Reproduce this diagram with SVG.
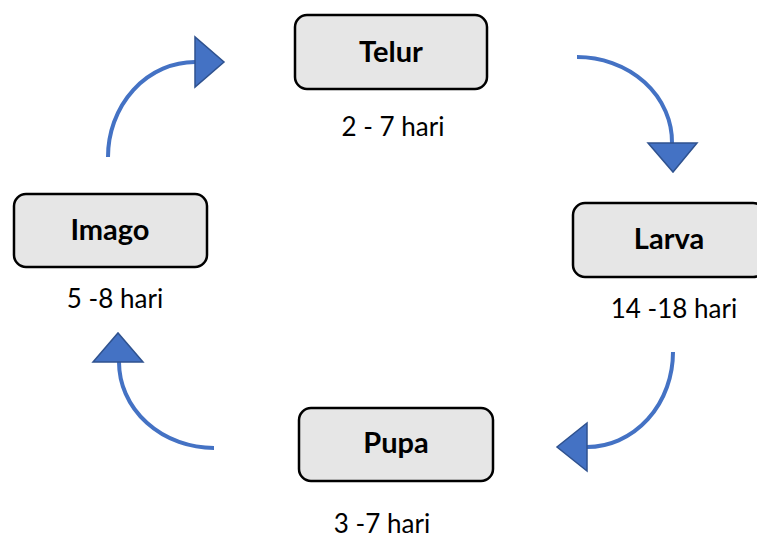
<svg xmlns="http://www.w3.org/2000/svg" width="757" height="538" viewBox="0 0 757 538">
<style>
.box{fill:#e6e6e6;stroke:#000;stroke-width:2.5}
.lbl{font-family:Lato,"Open Sans","Liberation Sans",sans-serif;font-weight:bold;font-size:29px;fill:#000;text-anchor:middle}
.dur{font-family:Lato,"Open Sans","Liberation Sans",sans-serif;font-size:26px;fill:#000;text-anchor:middle}
.arc{fill:none;stroke:#4472c4;stroke-width:4}
.head{fill:#4472c4;stroke:#2f528f;stroke-width:1.5;stroke-linejoin:miter}
</style>
<rect width="757" height="538" fill="#fff"/>
<g id="telur">
<rect class="box" x="295" y="15" width="192" height="74" rx="12"/>
<text class="lbl" x="391" y="62">Telur</text>
<text class="dur" x="393" y="136">2 - 7 hari</text>
</g>
<g id="larva">
<rect class="box" x="573" y="203" width="192" height="74" rx="12"/>
<text class="lbl" x="669" y="249">Larva</text>
<text class="dur" x="674" y="318">14 -18 hari</text>
</g>
<g id="pupa">
<rect class="box" x="299" y="408" width="194" height="73" rx="12"/>
<text class="lbl" x="396" y="453">Pupa</text>
<text class="dur" x="382" y="533">3 -7 hari</text>
</g>
<g id="imago">
<rect class="box" x="14" y="194" width="193" height="73" rx="12"/>
<text class="lbl" x="110" y="240">Imago</text>
<text class="dur" x="115" y="308">5 -8 hari</text>
</g>
<g id="connectors">
<path class="arc" d="M577,57 A95,85 0 0 1 672,143"/>
<polygon class="head" points="648,143 697,143 673,172"/>
<path class="arc" d="M673,352 A86,95 0 0 1 587,447"/>
<polygon class="head" points="587,423 587,471 557,447"/>
<path class="arc" d="M214,448 A95,86 0 0 1 119,362"/>
<polygon class="head" points="93,362 143,362 118,333"/>
<path class="arc" d="M108,157 A87,95 0 0 1 195,62"/>
<polygon class="head" points="195,37 195,87 224,62"/>
</g>
</svg>
